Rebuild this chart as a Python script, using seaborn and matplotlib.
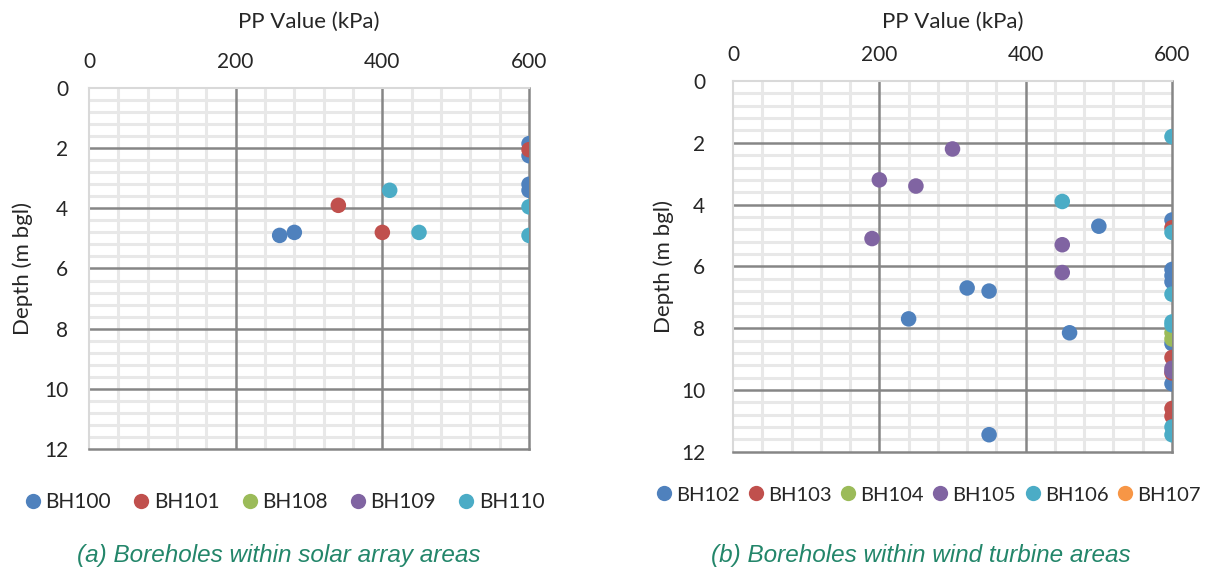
import numpy as np
import matplotlib
matplotlib.use("Agg")
import matplotlib.pyplot as plt
from matplotlib.lines import Line2D
from matplotlib.ticker import MultipleLocator
import seaborn as sns

# ---- data ----
# (a) solar array boreholes
solar_names = ["BH100", "BH101", "BH108", "BH109", "BH110"]
solar_pp = [
    [600, 600, 600, 600, 260, 280],
    [600, 340, 400],
    [],
    [],
    [600, 600, 410, 450],
]
solar_depth = [
    [1.85, 2.25, 3.2, 3.4, 4.9, 4.8],
    [2.05, 3.9, 4.8],
    [],
    [],
    [3.95, 4.9, 3.4, 4.8],
]

# (b) wind turbine boreholes
wind_names = ["BH102", "BH103", "BH104", "BH105", "BH106", "BH107"]
wind_pp = [
    [500, 320, 350, 240, 460, 350, 600, 600, 600, 600, 600, 600],
    [600, 600, 600, 600, 600],
    [600, 600],
    [300, 200, 250, 190, 450, 450, 600, 600],
    [600, 450, 600, 600, 600, 600, 600, 600],
    [],
]
wind_depth = [
    [4.7, 6.7, 6.8, 7.7, 8.15, 11.45, 4.5, 6.1, 6.3, 6.5, 8.5, 9.8],
    [4.75, 8.95, 9.45, 10.6, 10.85],
    [8.15, 8.35],
    [2.2, 3.2, 3.4, 5.1, 5.3, 6.2, 9.3, 9.4],
    [1.8, 3.9, 4.9, 6.9, 7.8, 7.9, 11.2, 11.45],
    [],
]

solar_colors = ["#4F81BD", "#C0504D", "#9BBB59", "#8064A2", "#4BACC6"]
wind_colors = ["#4F81BD", "#C0504D", "#9BBB59", "#8064A2", "#4BACC6", "#F79646"]

sns.set_style("white")
plt.rcParams["font.family"] = ["Lato", "DejaVu Sans"]

fig = plt.figure(figsize=(12.12, 5.7), dpi=100)
ax1 = fig.add_axes([0.0734, 0.2123, 0.3631, 0.6333])
ax2 = fig.add_axes([0.6048, 0.2075, 0.3622, 0.6504])

def draw_panel(ax, names, pps, depths, colors, ypad, xlabpad, ylab_x):
    for name, xs, ys, c in zip(names, pps, depths, colors):
        if len(xs):
            sns.scatterplot(x=xs, y=ys, color=c, s=125, edgecolor="none",
                            ax=ax, zorder=3, legend=False)
    ax.set_xlim(0, 600)
    ax.set_ylim(12, 0)
    ax.xaxis.set_major_locator(MultipleLocator(200))
    ax.xaxis.set_minor_locator(MultipleLocator(40))
    ax.yaxis.set_major_locator(MultipleLocator(2))
    ax.yaxis.set_minor_locator(MultipleLocator(0.4))
    # light minor grid underneath, darker major lines on top of it
    ax.grid(which="minor", color="#E8E8E8", lw=2.2, zorder=0)
    ax.grid(which="major", visible=False)
    for v in ax.get_xticks():
        if 0 < v < 600:
            ax.axvline(v, color="#868686", lw=1.8, zorder=1.5)
    for v in ax.get_yticks():
        if 0 < v < 12:
            ax.axhline(v, color="#868686", lw=1.8, zorder=1.5)
    ax.xaxis.tick_top()
    ax.xaxis.set_label_position("top")
    ax.tick_params(which="both", length=0)
    ax.tick_params(axis="x", pad=11.5, labelsize=15)
    ax.tick_params(axis="y", pad=ypad, labelsize=15)
    ax.set_xlabel("PP Value (kPa)", fontsize=16, labelpad=xlabpad)
    ax.set_ylabel("Depth (m bgl)", fontsize=16)
    ax.yaxis.set_label_coords(ylab_x, 0.5)
    for side in ["left", "top"]:
        ax.spines[side].set_color("#D9D9D9")
        ax.spines[side].set_linewidth(1.5)
    for side in ["right", "bottom"]:
        ax.spines[side].set_color("#868686")
        ax.spines[side].set_linewidth(1.8)

draw_panel(ax1, solar_names, solar_pp, solar_depth, solar_colors, 15, 17.5, -0.127)
draw_panel(ax2, wind_names, wind_pp, wind_depth, wind_colors, 20, 12.5, -0.134)

def add_legend(ax, names, colors, x, y, spacing, fs):
    handles = [Line2D([], [], ls="none", marker="o", markersize=11,
                      markerfacecolor=c, markeredgecolor="none") for c in colors]
    ax.legend(handles, names, loc="center left", bbox_to_anchor=(x, y),
              bbox_transform=fig.transFigure, ncol=len(names), frameon=False,
              fontsize=fs, handletextpad=0.1, columnspacing=spacing,
              handlelength=1.0, borderpad=0, borderaxespad=0)

add_legend(ax1, solar_names, solar_colors, 0.0187, 0.1193, 0.95, 15)
add_legend(ax2, wind_names, wind_colors, 0.5393, 0.1316, 0.32, 14.5)

caption_color = "#23866A"
fig.text(0.230, 0.025, "(a) Boreholes within solar array areas", fontsize=17.5,
         style="italic", color=caption_color, ha="center", va="center",
         family=["Liberation Sans", "DejaVu Sans"])
fig.text(0.7598, 0.025, "(b) Boreholes within wind turbine areas", fontsize=17.5,
         style="italic", color=caption_color, ha="center", va="center",
         family=["Liberation Sans", "DejaVu Sans"])

fig.savefig("out.png", dpi=100)
